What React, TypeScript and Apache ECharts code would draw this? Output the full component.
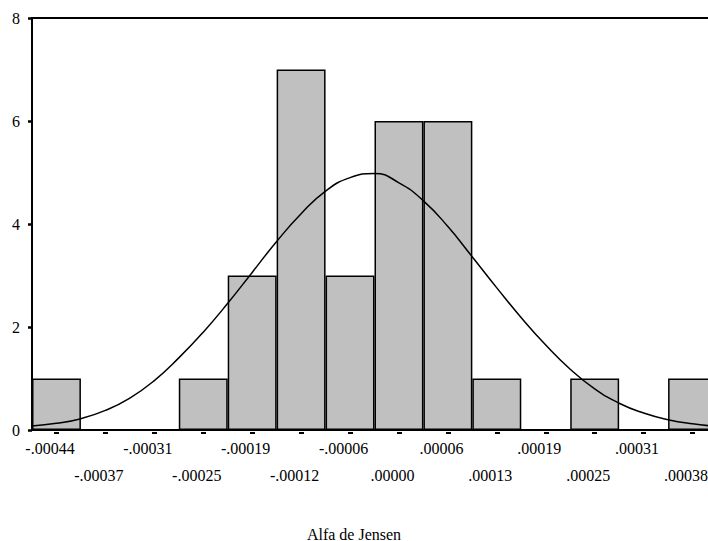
import React, { useEffect, useRef } from "react";
import * as echarts from "echarts";

const categories = [
  "-.00044", "-.00037", "-.00031", "-.00025", "-.00019", "-.00012", "-.00006",
  ".00000", ".00006", ".00013", ".00019", ".00025", ".00031", ".00038",
];
const counts = [1, 0, 0, 1, 3, 7, 3, 6, 6, 1, 0, 1, 0, 1];

// Normal curve: position in bin widths from the left edge, height in counts
const curvePos = [
  0, 0.5, 1, 1.5, 2, 2.5, 3, 3.5, 4, 4.5, 5, 5.5, 6, 6.5, 7,
  7.5, 8, 8.5, 9, 9.5, 10, 10.5, 11, 11.5, 12, 12.5, 13, 13.5, 14,
];
const curveVals = [
  0.08, 0.13, 0.22, 0.38, 0.62, 0.96, 1.4, 1.9, 2.46, 3.06, 3.66, 4.2, 4.64, 4.9, 4.98,
  4.8, 4.45, 3.95, 3.36, 2.76, 2.18, 1.65, 1.18, 0.8, 0.52, 0.33, 0.2, 0.12, 0.07,
];
const yMin = 0;
const yMax = 8;
const yStep = 2;
const axisTitle = "Alfa de Jensen";

const FONT = "Liberation Serif";

export default function App() {
  const ref = useRef<HTMLDivElement>(null);
  useEffect(() => {
    if (!ref.current) return;
    const chart = echarts.init(ref.current, undefined, { renderer: "svg" });
    const labelBase = {
      fontFamily: FONT,
      fontSize: 16,
      color: "#000",
      padding: [0, 13, 0, 0],
    };
    chart.setOption({
      animation: false,
      title: {
        text: axisTitle,
        left: "center",
        top: 521,
        textStyle: { fontFamily: FONT, fontSize: 16, fontWeight: "normal", color: "#000" },
      },
      grid: {
        left: 32,
        width: 685,
        top: 18,
        bottom: 111,
        outerBoundsMode: "none",
        containLabel: false,
        show: true,
        borderColor: "#000",
        borderWidth: 2,
        backgroundColor: "transparent",
      },
      xAxis: [
        {
          type: "category",
          data: categories,
          position: "bottom",
          axisLine: { show: true, lineStyle: { color: "#000", width: 2 } },
          axisTick: { show: false },
          axisLabel: { ...labelBase, interval: (i: number) => i % 2 === 0, margin: 10 },
          splitLine: { show: false },
        },
        {
          type: "category",
          data: categories,
          position: "bottom",
          axisLine: { show: false },
          axisTick: { show: false },
          axisLabel: { ...labelBase, interval: (i: number) => i % 2 === 1, margin: 37 },
          splitLine: { show: false },
        },
        {
          type: "category",
          data: categories,
          position: "bottom",
          offset: 2,
          axisLine: { show: false },
          axisTick: {
            show: true,
            alignWithLabel: true,
            interval: 0,
            length: 2,
            lineStyle: { color: "#000", width: 5 },
          },
          axisLabel: { show: false },
          splitLine: { show: false },
        },
        {
          type: "value",
          min: 0,
          max: categories.length,
          show: false,
        },
      ],
      yAxis: {
        type: "value",
        min: yMin,
        max: yMax,
        interval: yStep,
        axisLine: { show: true, lineStyle: { color: "#000", width: 2 } },
        axisTick: { show: true, length: 4, lineStyle: { color: "#000", width: 2.5 } },
        axisLabel: { fontFamily: FONT, fontSize: 16, color: "#000", margin: 12 },
        splitLine: { show: false },
      },
      series: [
        {
          type: "bar",
          xAxisIndex: 0,
          yAxisIndex: 0,
          data: counts,
          barCategoryGap: "0%",
          itemStyle: { color: "#c0c0c0", borderColor: "#000", borderWidth: 1.5 },
          z: 2,
        },
        {
          type: "line",
          xAxisIndex: 3,
          yAxisIndex: 0,
          data: curvePos.map((p, i) => [p, curveVals[i]]),
          smooth: true,
          showSymbol: false,
          lineStyle: { color: "#000", width: 1.5 },
          z: 3,
        },
      ],
    });
    return () => chart.dispose();
  }, []);
  return (
    <div
      ref={ref}
      style={{ position: "fixed", left: 0, top: 0, width: 708, height: 541, background: "#fff" }}
    />
  );
}
